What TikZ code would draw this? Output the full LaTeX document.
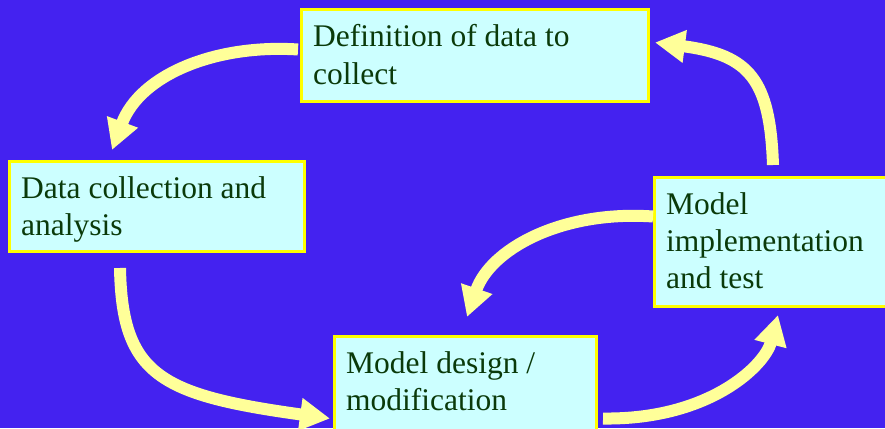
\documentclass[tikz,border=0pt]{standalone}
\usepackage{fontspec}
\setmainfont{Liberation Serif}
\usetikzlibrary{arrows.meta,calc}
\definecolor{bg}{HTML}{4422F0}
\definecolor{boxfill}{HTML}{CCFFFF}
\definecolor{boxline}{HTML}{FFFF00}
\definecolor{txtc}{HTML}{0A3A0A}
\definecolor{arr}{HTML}{FFFF99}
\begin{document}
\begin{tikzpicture}[x=1pt,y=-1pt,
  box/.style={draw=boxline, fill=boxfill, line width=3pt, inner sep=0pt, anchor=north west},
  txt/.style={text=txtc, anchor=base west, align=left, inner sep=0pt,
    font=\fontsize{31.5}{37}\selectfont},
  conn/.style={draw=arr, line width=12pt, -{Triangle[length=30pt,width=31pt]}}]
\fill[bg] (0,0) rectangle (885,428);
\useasboundingbox (0,0) rectangle (885,428);
% boxes
\node[box, minimum width=347pt, minimum height=92pt] (def) at (300,8) {};
\node[box, minimum width=295pt, minimum height=90pt] (dca) at (8,160) {};
\node[box, minimum width=237pt, minimum height=129pt] (mit) at (653,176) {};
\node[box, minimum width=262pt, minimum height=97pt] (mdm) at (333,335) {};
% texts (anchor = baseline of the last line)
\node[txt] (tdef) at (313,84) {Definition of data to\\collect};
\node[txt] (tdca) at (21,235) {Data collection and\\analysis};
\node[txt] (tmit) at (666,288) {Model\\implementation\\and test};
\node[txt] (tmdm) at (346,410) {Model design /\\modification};
% connectors
\draw[conn] ($(def.west)+(-2,-6)$) .. controls (215,44) and (140,75) .. ($(dca.north west)+(104,-10)$);
\draw[conn] ($(dca.south west)+(112,15)$) .. controls (122,375) and (160,395) .. ($(mdm.west)+(-3,33.5)$);
\draw[conn] ($(mdm.east)+(5,33.5)$) .. controls (710,420) and (765,365) .. ($(mit.south west)+(125,7)$);
\draw[conn] ($(mit.west)+(0,-25.5)$) .. controls (560,210) and (490,250) .. ($(mdm.north west)+(134,-18)$);
\draw[conn] ($(mit.north west)+(120,-11)$) .. controls (770,80) and (750,55) .. ($(def.east)+(5,-13)$);
\end{tikzpicture}
\end{document}
